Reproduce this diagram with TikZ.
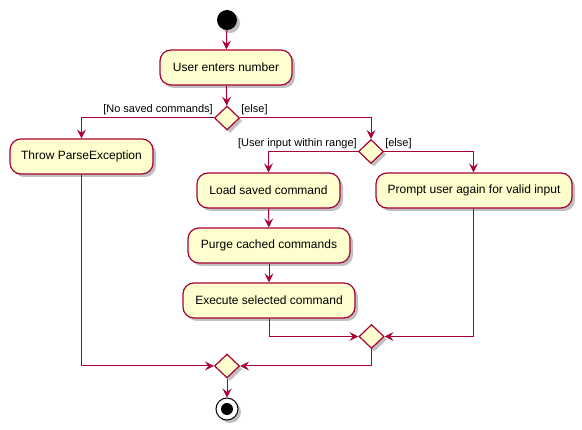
\documentclass[tikz,border=0pt]{standalone}
\usepackage{fontspec}
\setmainfont{Liberation Sans}
\usetikzlibrary{arrows.meta,shapes.geometric,shadows}
\definecolor{pred}{HTML}{A80036}
\definecolor{pfill}{HTML}{FEFECE}
\tikzset{
  shad/.style={drop shadow={shadow xshift=3pt,shadow yshift=-3pt,opacity=0.25,fill=black}},
  act/.style={draw=pred,fill=pfill,line width=1.2pt,rounded corners=11pt,minimum height=35pt,inner sep=0pt,font=\fontsize{12}{14}\selectfont,shad},
  dia/.style={diamond,draw=pred,fill=pfill,line width=1.2pt,minimum width=25pt,minimum height=24pt,inner sep=0pt,shad},
  arr/.style={draw=pred,line width=1pt,-{Stealth[length=9pt,width=9pt,inset=3.5pt]}},
  lbl/.style={font=\fontsize{11}{13}\selectfont,inner sep=1pt}
}
\begin{document}
\begin{tikzpicture}[x=1pt,y=-1pt]
\useasboundingbox (0,0) rectangle (582,430);
\node[circle,fill=black,minimum size=20pt,inner sep=0pt,shad] (start) at (227,20) {};
\node[act,minimum width=132pt] (ua) at (226,67.5) {User enters number};
\node[dia] (d1) at (227,118) {};
\node[act,minimum width=143pt] (throw) at (81.5,156.5) {Throw ParseException};
\node[dia] (d2) at (371,151.5) {};
\node[act,minimum width=143pt] (load) at (268.5,190.5) {Load saved command};
\node[act,minimum width=162pt] (purge) at (269,245.5) {Purge cached commands};
\node[act,minimum width=172pt] (exec) at (269,300.5) {Execute selected command};
\node[act,minimum width=196pt] (prompt) at (474,190.5) {Prompt user again for valid input};
\node[dia] (m2) at (371.5,336.5) {};
\node[dia] (m1) at (227,366) {};
\node[circle,draw=black,fill=white,line width=1pt,minimum size=22pt,inner sep=0pt,shad] (endo) at (227,409) {};
\node[circle,fill=black,minimum size=12pt,inner sep=0pt] (endi) at (endo) {};

\node[lbl,anchor=south east] (l1) at ([yshift=2pt]d1.west) {[No saved commands]};
\node[lbl,anchor=south west] (l2) at ([yshift=2pt]d1.east) {[else]};
\node[lbl,anchor=south east] (l3) at ([yshift=2pt]d2.west) {[User input within range]};
\node[lbl,anchor=south west] (l4) at ([yshift=2pt]d2.east) {[else]};

\draw[arr] (start) -- (ua);
\draw[arr] (ua) -- (d1);
\draw[arr] (d1.west) -| (throw.north);
\draw[arr] (d1.east) -| (d2.north);
\draw[arr] (d2.west) -| (load.north);
\draw[arr] (d2.east) -| ([xshift=-0.5pt]prompt.north);
\draw[arr] (load) -- (purge);
\draw[arr] (purge) -- (exec);
\draw[arr] (exec.south) |- (m2.west);
\draw[arr] ([xshift=-0.5pt]prompt.south) |- (m2.east);
\draw[arr] (throw.south) |- (m1.west);
\draw[arr] (m2.south) |- (m1.east);
\draw[arr] (m1) -- (endo);
\end{tikzpicture}
\end{document}
